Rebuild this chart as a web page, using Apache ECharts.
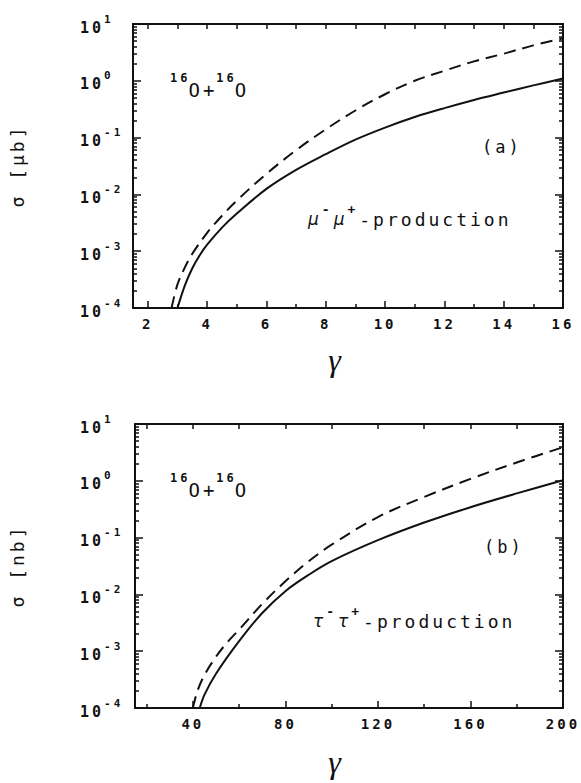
<!DOCTYPE html>
<html>
<head>
<meta charset="utf-8">
<script src="https://cdn.jsdelivr.net/npm/echarts@6/dist/echarts.min.js"></script>
<style>
html, body { margin: 0; padding: 0; background: #fff; }
#wrap { position: relative; width: 581px; height: 783px; }
</style>
<style id="ls">
/* plotter-style wide lettering */
#wrap text { letter-spacing: 3px; }
</style>
</head>
<body>
<div id="wrap"></div>
<script>
// ---- panel (a): mu- mu+ production, sigma in micro-barn ----
var solidAX = [3.0, 3.25, 3.5, 3.75, 4.0, 4.5, 5.0, 6.0, 7.0, 8.0, 9.0, 10, 11, 12, 13, 14, 15, 16];
var solidAY = [1e-4, 2.5e-4, 5e-4, 8.5e-4, 1.3e-3, 2.6e-3, 4.6e-3, 1.25e-2, 2.7e-2, 5.1e-2, 9.2e-2, 0.15, 0.23, 0.33, 0.46, 0.62, 0.83, 1.1];
var dashAX = [2.8, 3.0, 3.25, 3.5, 4.0, 4.5, 5.0, 6.0, 7.0, 8.0, 9.0, 10, 11, 12, 13, 14, 15, 16];
var dashAY = [1e-4, 2.6e-4, 5.2e-4, 9e-4, 2.1e-3, 4.2e-3, 7.8e-3, 2.3e-2, 6e-2, 0.14, 0.30, 0.58, 1.0, 1.5, 2.2, 3.0, 4.2, 5.6];

// ---- panel (b): tau- tau+ production, sigma in nano-barn ----
var solidBX = [43, 45, 50, 60, 70, 80, 90, 100, 120, 140, 160, 180, 200];
var solidBY = [1e-4, 1.7e-4, 4e-4, 1.5e-3, 4.7e-3, 1.14e-2, 2.2e-2, 3.85e-2, 9e-2, 0.184, 0.343, 0.6, 1.02];
var dashBX = [40, 42, 45, 50, 55, 60, 70, 80, 90, 100, 120, 140, 160, 180, 200];
var dashBY = [1e-4, 2e-4, 3.8e-4, 8e-4, 1.45e-3, 2.4e-3, 6.8e-3, 1.7e-2, 3.8e-2, 7.5e-2, 0.23, 0.52, 1.08, 2.1, 3.9];

// tick positions
var xLabelsA = [2, 4, 6, 8, 10, 12, 14, 16];
var xMinorA = [3, 5, 7, 9, 11, 13, 15];
var xTopA = [2, 3, 4, 5, 6, 7, 8, 9, 10, 11, 12, 13, 14, 15];
var xLabelsB = [40, 80, 120, 160, 200];
var xMinorB = [20, 60, 100, 140, 180];
var xTopB = [20, 40, 60, 80, 100, 120, 140, 160, 180];
var decades = [-4, -3, -2, -1, 0, 1];

var FONT = 'DejaVu Sans Mono';
var INK = '#111';

// minor log ticks (2..9 in each decade), as exponents
var logMinor = [];
for (var n = -4; n < 1; n++) {
  for (var k = 2; k < 10; k++) logMinor.push(n + Math.log10(k));
}

var panels = [
  { yOff: 0, h: 400, left: 133, width: 430, xMin: 1.5, xMax: 16, margin: 53,
    labels: xLabelsA, minor: xMinorA, top: xTopA,
    solidX: solidAX, solidY: solidAY, dashX: dashAX, dashY: dashAY,
    unit: 'σ [μb]', tag: '(a)', tagX: 482, lep: 'μ', prodX: 308, prodY: 219, gammaY: 360 },
  { yOff: 400, h: 383, left: 135, width: 428, xMin: 15, xMax: 200, margin: 55,
    labels: xLabelsB, minor: xMinorB, top: xTopB,
    solidX: solidBX, solidY: solidBY, dashX: dashBX, dashY: dashBY,
    unit: 'σ [nb]', tag: '(b)', tagX: 484, lep: 'τ', prodX: 313, prodY: 221, gammaY: 362 }
];

function zip(xs, ys) {
  return xs.map(function (x, i) { return [x, ys[i]]; });
}

function frame() {
  return { show: true, onZero: false, lineStyle: { color: INK, width: 2 } };
}
function noLine() {
  return { show: false, onZero: false };
}
function ticks(v, len, values) {
  var t = { show: true, inside: true, length: len, lineStyle: { color: v.tickInk, width: 1.5 } };
  if (values) t.customValues = values;
  return t;
}

var SUP = { '-': '⁻', '0': '⁰', '1': '¹', '2': '²', '3': '³', '4': '⁴' };

function logLabel(p, v) {
  var base = { align: 'left', margin: p.margin, color: INK };
  if (v.rich) {
    base.formatter = function (val) {
      return '{b|10}{e|' + Math.round(Math.log10(val)) + '}';
    };
    base.rich = {
      b: { fontFamily: FONT, fontSize: 15, fontWeight: 'bold', color: INK, padding: [7, 0, 0, 0] },
      e: { fontFamily: FONT, fontSize: 11, fontWeight: 'bold', color: INK, padding: [0, 0, 10, 6] }
    };
  } else {
    base.fontFamily = FONT; base.fontSize = 15; base.fontWeight = 'bold';
    base.formatter = function (val) {
      return '10' + String(Math.round(Math.log10(val))).split('').map(function (c) { return SUP[c]; }).join('');
    };
  }
  return base;
}

function curve(xi, yi, xs, ys, dashed) {
  return {
    type: 'line', xAxisIndex: xi, yAxisIndex: yi, data: zip(xs, ys),
    showSymbol: false, smooth: 0.35, silent: true,
    lineStyle: { color: INK, width: 2, type: dashed ? [12, 7] : 'solid' }
  };
}

function addAxes(p, gi, oy, v, o) {
  var xb = o.xAxis.length, yb = o.yAxis.length;
  o.grid.push({ left: p.left, top: oy + 24, width: p.width, height: 284,
    show: !v.right, borderColor: INK, borderWidth: 2, backgroundColor: 'transparent' });
  o.xAxis.push({
    type: 'value', gridIndex: gi, min: p.xMin, max: p.xMax, position: 'bottom',
    axisLine: frame(), splitLine: { show: false }, axisTick: ticks(v, 7, p.labels),
    axisLabel: { customValues: p.labels, margin: 9, color: INK, fontFamily: FONT, fontSize: 14, fontWeight: 'bold' }
  });
  o.xAxis.push({
    type: 'value', gridIndex: gi, min: p.xMin, max: p.xMax, position: 'top',
    axisLine: frame(), splitLine: { show: false }, axisLabel: { show: false }, axisTick: ticks(v, 5, p.top)
  });
  if (v.extraX) {
    o.xAxis.push({
      type: 'value', gridIndex: gi, min: p.xMin, max: p.xMax, position: 'bottom',
      axisLine: noLine(), splitLine: { show: false }, axisLabel: { show: false }, axisTick: ticks(v, 4, p.minor)
    });
  }
  o.yAxis.push({
    type: 'log', logBase: 10, gridIndex: gi, min: 1e-4, max: 10, position: 'left',
    axisLine: frame(), splitLine: { show: false }, axisTick: ticks(v, 8), axisLabel: logLabel(p, v)
  });
  var tickAxis = function (pos, len, values, line) {
    return {
      type: 'value', gridIndex: gi, min: -4, max: 1, position: pos,
      axisLine: line ? frame() : noLine(), splitLine: { show: false }, axisLabel: { show: false },
      axisTick: ticks(v, len, values)
    };
  };
  o.yAxis.push(tickAxis('left', 4, logMinor, false));
  if (v.right) {
    o.yAxis.push(tickAxis('right', 8, decades, true));
    o.yAxis.push(tickAxis('right', 4, logMinor, false));
  }
  o.series.push(curve(xb, yb, p.solidX, p.solidY, false));
  o.series.push(curve(xb, yb, p.dashX, p.dashY, true));
}

function txt(x, y, text, extra) {
  var st = {
    x: x, y: y, text: text, fill: INK,
    font: '17px "' + FONT + '"', textAlign: 'left', textVerticalAlign: 'middle'
  };
  for (var key in extra) st[key] = extra[key];
  return { type: 'text', silent: true, style: st };
}

function rotated(x, y, text, font) {
  return {
    type: 'text', silent: true, x: x, y: y, rotation: Math.PI / 2,
    style: { x: 0, y: 0, text: text, fill: INK, font: font, textAlign: 'center', textVerticalAlign: 'middle' }
  };
}

var supRich = {
  s: { fontFamily: FONT, fontSize: 12, fontWeight: 'bold', color: INK, padding: [0, 4, 24, 0] },
  o: { fontFamily: FONT, fontSize: 19, color: INK, padding: [0, 5, 0, 0] }
};
var prodRich = {
  g: { fontFamily: 'DejaVu Sans', fontStyle: 'italic', fontSize: 17, color: INK, padding: [0, 3, 0, 0] },
  p: { fontFamily: FONT, fontSize: 13, fontWeight: 'bold', color: INK, padding: [0, 4, 20, 0] },
  t: { fontFamily: FONT, fontSize: 18, color: INK }
};

function panelGraphics(p, oy) {
  return [
    rotated(17, oy + 166, p.unit, '18px "' + FONT + '"'),
    txt(336, oy + p.gammaY, 'γ', { textAlign: 'center', font: 'italic 32px "Liberation Serif"' }),
    txt(170, oy + 90, '{s|16}{o|O+}{s|16}{o|O}', { rich: supRich }),
    txt(p.tagX, oy + 147, p.tag),
    txt(p.prodX, oy + p.prodY, '{g|' + p.lep + '}{p|-}{g|' + p.lep + '}{p|+}{t|-production}', { rich: prodRich })
  ];
}

function buildOption(list, v, withAxes, withGraphics) {
  var o = { grid: [], xAxis: [], yAxis: [], series: [] };
  var graphics = [];
  list.forEach(function (p, gi) {
    var oy = v.split ? 0 : p.yOff;
    if (withAxes) addAxes(p, gi, oy, v, o);
    if (withGraphics) graphics = graphics.concat(panelGraphics(p, oy));
  });
  var opt = { animation: false };
  if (withAxes) { opt.grid = o.grid; opt.xAxis = o.xAxis; opt.yAxis = o.yAxis; opt.series = o.series; }
  if (graphics.length) opt.graphic = graphics;
  return opt;
}

var wrap = document.getElementById('wrap');
var charts = [];

function addDiv(top, h, overlay) {
  var d = document.createElement('div');
  d.style.cssText = 'position:absolute;left:0;top:' + top + 'px;width:581px;height:' + h + 'px;' +
    (overlay ? 'z-index:5;pointer-events:none;' : '');
  wrap.appendChild(d);
  return d;
}

function render(v) {
  charts.forEach(function (c) { c.dispose(); });
  charts = [];
  wrap.innerHTML = '';
  document.getElementById('ls').sheet.disabled = !v.css;
  var groups = v.split ? [[panels[0]], [panels[1]]] : [panels];
  groups.forEach(function (list) {
    var top = v.split ? list[0].yOff : 0;
    var h = v.split ? list[0].h : 783;
    var c = echarts.init(addDiv(top, h, false), null, { renderer: 'svg' });
    c.setOption(buildOption(list, v, true, !v.overlay));
    charts.push(c);
    if (v.overlay) {
      var c2 = echarts.init(addDiv(top, h, true), null, { renderer: 'svg' });
      c2.setOption(buildOption(list, v, false, true));
      charts.push(c2);
    }
  });
}

// counts short straight strokes (axis ticks) in the rendered SVG
function tickCount() {
  var count = 0;
  var re = /M\s*(-?[\d.]+)[\s,]+(-?[\d.]+)\s*L\s*(-?[\d.]+)[\s,]+(-?[\d.]+)/g;
  wrap.querySelectorAll('svg path').forEach(function (path) {
    var d = path.getAttribute('d') || '';
    var m;
    while ((m = re.exec(d)) !== null) {
      var len = Math.hypot(m[3] - m[1], m[4] - m[2]);
      if (len > 0 && len < 12) count++;
    }
  });
  return count;
}

function V(o) {
  var d = { split: false, overlay: false, rich: true, extraX: true, right: true, css: true, tickInk: INK };
  for (var key in o) d[key] = o[key];
  return d;
}

var variants = [
  V({}),
  V({ overlay: true }),
  V({ rich: false }),
  V({ extraX: false }),
  V({ right: false }),
  V({ css: false }),
  V({ split: true }),
  V({ split: true, overlay: true }),
  V({ tickInk: '#333' }),
  V({ split: true, overlay: true, rich: false, extraX: false, right: false, css: false }),
  V({ split: true, overlay: true, rich: false, extraX: false, right: false, css: false, tickInk: 'rgb(40,40,40)' })
];

var chosen = null;
for (var i = 0; i < variants.length; i++) {
  render(variants[i]);
  if (tickCount() >= 20) { chosen = variants[i]; break; }
}
if (!chosen) render(variants[0]);
</script>
</body>
</html>
